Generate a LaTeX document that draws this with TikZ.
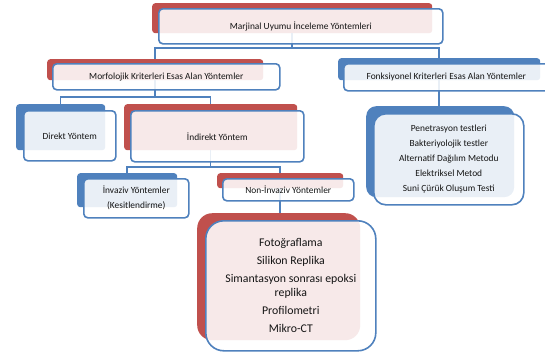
\documentclass[tikz,border=0pt]{standalone}
\usepackage{fontspec}
\setmainfont{Carlito}
\definecolor{sblue}{HTML}{4F81BD}
\definecolor{sred}{HTML}{C0504D}
\definecolor{txt}{HTML}{141414}
\tikzset{
  backR/.style={fill=sred, draw=none, rounded corners=3pt, inner sep=0pt, anchor=north west},
  backB/.style={fill=sblue, draw=none, rounded corners=3pt, inner sep=0pt, anchor=north west},
  front/.style={draw=sblue, line width=1.6pt, fill=white, fill opacity=0.88, text opacity=1,
    rounded corners=4pt, inner sep=0pt, anchor=north west, align=center, text=txt,
    font=\fontsize{9.4}{15}\selectfont},
  conn/.style={draw=sblue, line width=1.5pt}
}
\begin{document}
\begin{tikzpicture}[x=1pt,y=-1pt]
\useasboundingbox (0,0) rectangle (545,356);
% back shapes
\node[backR, minimum width=280pt, minimum height=30pt] (b0) at (152,3) {};
\node[backR, minimum width=216pt, minimum height=21pt] (b1) at (47,59) {};
\node[backB, minimum width=202pt, minimum height=22pt] (b2) at (338,58) {};
\node[backB, minimum width=89pt, minimum height=46pt] (b3) at (16,104) {};
\node[backR, minimum width=173pt, minimum height=46pt] (b4) at (124,104) {};
\node[backB, minimum width=148pt, minimum height=91pt, rounded corners=10pt] (b5) at (366,106) {};
\node[backB, minimum width=100pt, minimum height=34pt] (b6) at (77,173) {};
\node[backR, minimum width=126pt, minimum height=15pt] (b7) at (217,173) {};
\node[backR, minimum width=163pt, minimum height=127pt, rounded corners=15pt] (b8) at (197,213) {};
% levels
\coordinate (L1) at (0,48);
\coordinate (L2) at (0,97);
\coordinate (L3) at (0,167);
% connectors
\draw[conn] (b0.south) -- (b0.south |- L1) -| (b1.north);
\draw[conn] (b0.south |- L1) -| (b2.north);
\draw[conn] (b1.south) -- (b1.south |- L2) -| (b3.north);
\draw[conn] (b1.south |- L2) -| (b4.north);
\draw[conn] (b2.south) -- (b2.south |- b5.north);
\draw[conn] (b4.south) -- (b4.south |- L3) -| (b6.north);
\draw[conn] (b4.south |- L3) -| (b7.north);
\draw[conn] (b7.south) -- (b7.south |- b8.north);
% front boxes
\node[front, minimum width=284pt, minimum height=35pt] (f0) at (158,8) {Marjinal Uyumu İnceleme Yöntemleri};
\node[front, minimum width=227pt, minimum height=26pt] (f1) at (52,63) {Morfolojik Kriterleri Esas Alan Yöntemler};
\node[front, minimum width=209pt, minimum height=27pt] (f2) at (343,63) {Fonksiyonel Kriterleri Esas Alan Yöntemler\hspace*{4pt}};
\node[front, minimum width=92pt, minimum height=50pt] (f3) at (23,110) {Direkt Yöntem};
\node[front, minimum width=173pt, minimum height=51pt] (f4) at (130,110) {İndirekt Yöntem};
\node[front, minimum width=150pt, minimum height=91pt, rounded corners=12pt] (f5) at (373,113)
  {Penetrasyon testleri\\Bakteriyolojik testler\\Alternatif Dağılım Metodu\\Elektriksel Metod\\Suni Çürük Oluşum Testi};
\node[front, minimum width=105pt, minimum height=39pt] (f6) at (83,178) {İnvaziv Yöntemler\\(Kesitlendirme)};
\node[front, minimum width=131pt, minimum height=22pt] (f7) at (222,178) {Non-İnvaziv Yöntemler};
\node[front, minimum width=170pt, minimum height=130pt, rounded corners=18pt,
  font=\fontsize{11.8}{14}\selectfont] (f8) at (205,220)
  {Fotoğraflama\\[4pt]Silikon Replika\\[4pt]Simantasyon sonrası epoksi\\replika\\[4pt]Profilometri\\[4pt]Mikro-CT};
\end{tikzpicture}
\end{document}
